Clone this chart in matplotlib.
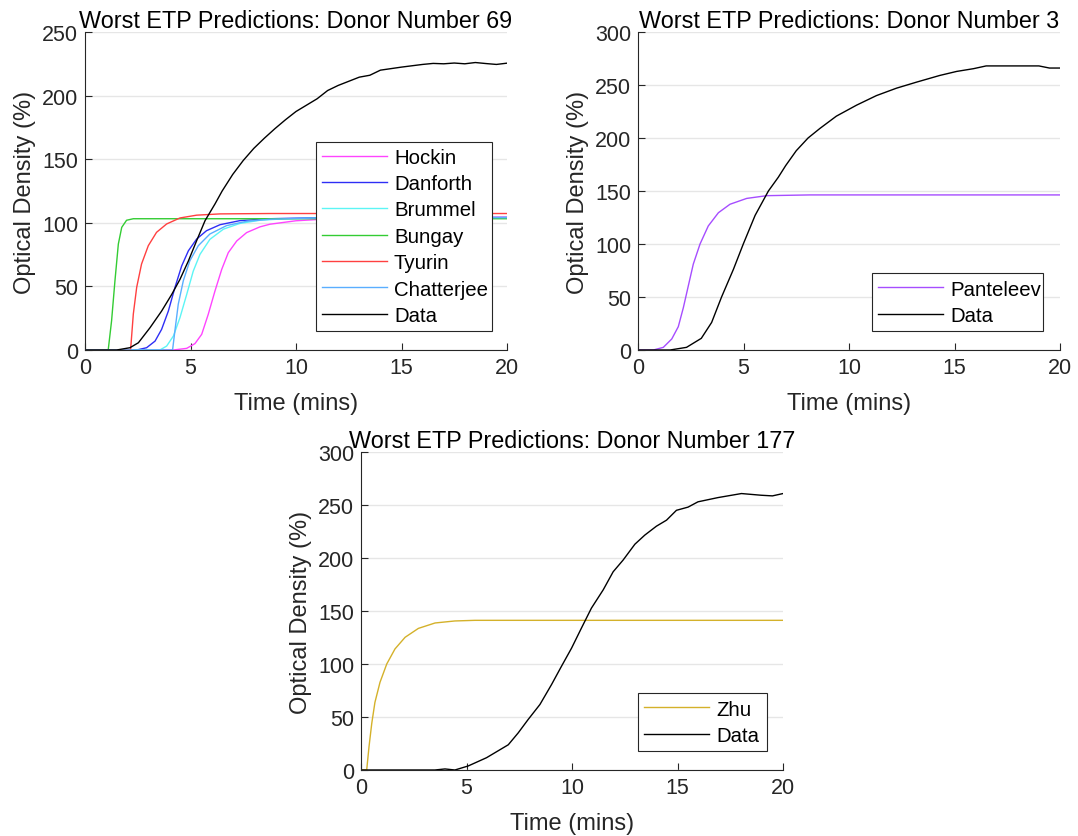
import matplotlib
matplotlib.use("Agg")
import matplotlib.pyplot as plt

plt.rcParams['font.family'] = ['Liberation Sans', 'DejaVu Sans']

# ---------------- Donor 69 ----------------
d69_data_t = [0, 1.5, 2.13, 2.53, 3.08, 3.63, 4.11, 4.5, 4.9, 5.29, 5.69, 6.16, 6.5, 7, 7.5, 8,
              8.5, 9, 9.5, 10, 11, 11.5, 12, 13, 13.5, 14, 15, 16, 16.5, 17, 17.5, 18, 18.5,
              19, 19.5, 20]
d69_data_v = [0, 0, 1.8, 5.7, 17.5, 30.6, 43.7, 55.5, 70, 85.9, 101.7, 114.8, 125, 138, 149,
              158.5, 166.5, 174, 181, 187.5, 197.5, 204, 208, 214.5, 216, 220, 222.4, 224.5,
              225.3, 225, 225.6, 225, 226, 225.2, 224.5, 225.5]

hockin_t = [0, 4.19, 4.82, 5.21, 5.53, 5.84, 6.16, 6.48, 6.79, 7.19, 7.66, 8.29, 8.77, 10, 12, 15, 20]
hockin_v = [0, 0, 1.3, 5, 12.3, 28, 46.4, 63.4, 76.5, 85.7, 92.3, 96.8, 98.9, 101.6, 103.5, 104, 104.2]

danforth_t = [0, 2.45, 2.92, 3.32, 3.63, 3.95, 4.26, 4.58, 4.9, 5.29, 5.76, 6.4, 7.34, 8.77, 11, 20]
danforth_v = [0, 0, 1.8, 7, 16.2, 30.6, 49, 66, 78, 87.2, 93.8, 98.5, 101.7, 103.2, 104, 104.3]

brummel_t = [0, 3.55, 3.87, 4.19, 4.5, 4.82, 5.13, 5.45, 5.92, 6.56, 7.34, 8.29, 9.5, 12, 20]
brummel_v = [0, 0, 3.1, 11, 25.4, 43.7, 62, 75.2, 87, 95, 99.5, 102, 103.2, 103.8, 104]

bungay_t = [0, 1.10, 1.26, 1.42, 1.58, 1.74, 1.97, 2.29, 20]
bungay_v = [0, 0, 23, 54.5, 83.3, 96.4, 102, 103.2, 103.2]

tyurin_t = [0, 2.16, 2.29, 2.45, 2.68, 3.0, 3.39, 3.87, 4.5, 5.29, 6.4, 8.77, 20]
tyurin_v = [0, 0, 28.3, 49.3, 67.6, 82, 92.5, 99.1, 103.8, 106, 107, 107.3, 107.3]

chatterjee_t = [0, 4.15, 4.26, 4.42, 4.66, 4.97, 5.37, 5.92, 6.71, 7.66, 8.77, 11, 20]
chatterjee_v = [0, 0, 15, 36, 54.5, 70.2, 82, 91.2, 97.8, 101.2, 102.8, 103.8, 104]

# ---------------- Donor 3 ----------------
d3_data_t = [0, 1.52, 2.3, 3.0, 3.49, 3.96, 4.52, 4.99, 5.55, 6.18, 6.65, 7.0, 7.5, 8.06, 8.62,
             9.4, 10.36, 11.3, 12.25, 13.2, 14.3, 15.1, 15.9, 16.5, 17.5, 19.0, 19.5, 20]
d3_data_v = [0, 0, 2.5, 11, 26, 50, 76, 100, 127, 150, 163, 174, 188, 200, 209, 220.6, 231, 240,
             247, 252.7, 259, 262.8, 265.4, 268, 268, 268, 266, 266]

panteleev_t = [0, 0.73, 1.2, 1.6, 1.91, 2.15, 2.39, 2.62, 2.94, 3.33, 3.81, 4.36, 5.15, 6.1, 8.15, 20]
panteleev_v = [0, 0, 2.5, 10.4, 22, 40, 61, 81, 100, 117, 129.5, 137.5, 143, 145.6, 146.3, 146.3]

# ---------------- Donor 177 ----------------
d177_data_t = [0, 3.5, 3.98, 4.45, 5.08, 5.95, 6.98, 7.45, 7.92, 8.48, 9.03, 9.5, 9.98, 10.45,
               10.92, 11.48, 11.95, 12.42, 12.98, 13.45, 14.0, 14.48, 14.95, 15.5, 15.97,
               16.92, 18.03, 18.97, 19.5, 20]
d177_data_v = [0, 0, 1, 0, 3.8, 11.6, 23.8, 35, 47.6, 61.8, 80.6, 97.8, 115, 134, 152.7, 170,
               187, 198, 213, 221.6, 230, 235.7, 245, 248, 253, 257, 260.8, 259.2, 258.6, 260.8]

zhu_t = [0, 0.27, 0.38, 0.51, 0.66, 0.9, 1.22, 1.61, 2.09, 2.72, 3.51, 4.45, 5.4, 20]
zhu_v = [0, 0, 22, 44, 63.8, 82.7, 100, 114.2, 125.2, 133.6, 138.7, 140.6, 141.2, 141.2]

titles = ["Worst ETP Predictions: Donor Number 69",
          "Worst ETP Predictions: Donor Number 3",
          "Worst ETP Predictions: Donor Number 177"]
xlabel = "Time (mins)"
ylabel = "Optical Density (%)"

COL = {
    "Hockin": "#FF44FF", "Danforth": "#2E2EF5", "Brummel": "#5CF5F5", "Bungay": "#33CC33",
    "Tyurin": "#FF4040", "Chatterjee": "#5AAEFF", "Panteleev": "#A64DFF", "Zhu": "#D4B12A",
    "Data": "#000000",
}

fig = plt.figure(figsize=(10.78, 8.37), dpi=100)
W, H = 1078, 837

def make_ax(l, r, t, b):
    return fig.add_axes([l / W, 1 - b / H, (r - l) / W, (b - t) / H])

ax1 = make_ax(85, 507, 33, 351)
ax2 = make_ax(638, 1060, 33, 351)
ax3 = make_ax(361, 783, 453, 771)

TXT = "#262626"

def style(ax, ymax, title):
    ax.set_xlim(0, 20)
    ax.set_ylim(0, ymax)
    ax.set_xticks([0, 5, 10, 15, 20])
    ax.set_yticks(list(range(0, ymax + 1, 50)))
    for s in ["top", "right"]:
        ax.spines[s].set_visible(False)
    for s in ["left", "bottom"]:
        ax.spines[s].set_color(TXT)
        ax.spines[s].set_linewidth(0.8)
    ax.tick_params(direction="in", length=5, width=0.8, colors=TXT, labelsize=15.5, pad=5)
    ax.grid(axis="y", color="#E6E6E6", linewidth=1.0)
    ax.set_axisbelow(True)
    ax.set_title(title, fontsize=16.8, color="black", pad=2)
    ax.set_xlabel(xlabel, fontsize=17, color=TXT, labelpad=10)
    ax.set_ylabel(ylabel, fontsize=17, color=TXT, labelpad=4)

LW = 1.0
ax1.plot(hockin_t, hockin_v, color=COL["Hockin"], lw=LW, label="Hockin")
ax1.plot(danforth_t, danforth_v, color=COL["Danforth"], lw=LW, label="Danforth")
ax1.plot(brummel_t, brummel_v, color=COL["Brummel"], lw=LW, label="Brummel")
ax1.plot(bungay_t, bungay_v, color=COL["Bungay"], lw=LW, label="Bungay")
ax1.plot(tyurin_t, tyurin_v, color=COL["Tyurin"], lw=LW, label="Tyurin")
ax1.plot(chatterjee_t, chatterjee_v, color=COL["Chatterjee"], lw=LW, label="Chatterjee")
ax1.plot(d69_data_t, d69_data_v, color=COL["Data"], lw=LW, label="Data")
style(ax1, 250, titles[0])

ax2.plot(panteleev_t, panteleev_v, color=COL["Panteleev"], lw=LW, label="Panteleev")
ax2.plot(d3_data_t, d3_data_v, color=COL["Data"], lw=LW, label="Data")
style(ax2, 300, titles[1])

ax3.plot(zhu_t, zhu_v, color=COL["Zhu"], lw=LW, label="Zhu")
ax3.plot(d177_data_t, d177_data_v, color=COL["Data"], lw=LW, label="Data")
style(ax3, 300, titles[2])

def legend(ax, l, r, t, b):
    (x0, y0) = ax.transAxes.inverted().transform((l, H - b))
    (x1, y1) = ax.transAxes.inverted().transform((r, H - t))
    lg = ax.legend(loc="lower left", bbox_to_anchor=(x0, y0, x1 - x0, y1 - y0), mode="expand",
                   fontsize=14.7, frameon=True, fancybox=False, handlelength=3.2,
                   handletextpad=0.32, borderaxespad=0, borderpad=0.3, labelspacing=0.36)
    fr = lg.get_frame()
    fr.set_edgecolor(TXT)
    fr.set_linewidth(0.8)
    fr.set_alpha(1)
    return lg

legend(ax1, 316, 492, 143, 332)
legend(ax2, 872, 1043, 273, 332)
legend(ax3, 638, 767, 694, 752)

fig.savefig("out.png", dpi=100)
